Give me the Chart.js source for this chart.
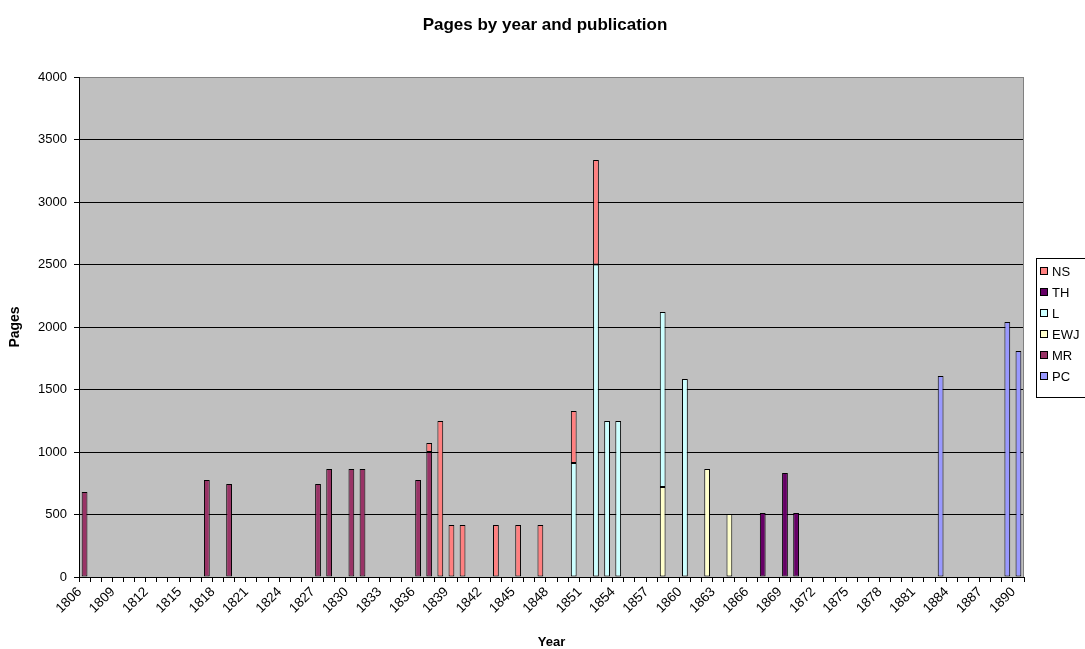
<!DOCTYPE html>
<html>
<head>
<meta charset="utf-8">
<script src="https://cdn.jsdelivr.net/npm/chart.js@4"></script>
<style>
  html, body { margin: 0; padding: 0; background: #fff; }
  #wrap { width: 1085px; height: 649px; position: relative; }
</style>
</head>
<body>
<div id="wrap"><canvas id="pagesChart"></canvas></div>
<script>
// Categories: one per year
const years = [
  1806, 1807, 1808, 1809, 1810, 1811, 1812, 1813, 1814, 1815,
  1816, 1817, 1818, 1819, 1820, 1821, 1822, 1823, 1824, 1825,
  1826, 1827, 1828, 1829, 1830, 1831, 1832, 1833, 1834, 1835,
  1836, 1837, 1838, 1839, 1840, 1841, 1842, 1843, 1844, 1845,
  1846, 1847, 1848, 1849, 1850, 1851, 1852, 1853, 1854, 1855,
  1856, 1857, 1858, 1859, 1860, 1861, 1862, 1863, 1864, 1865,
  1866, 1867, 1868, 1869, 1870, 1871, 1872, 1873, 1874, 1875,
  1876, 1877, 1878, 1879, 1880, 1881, 1882, 1883, 1884, 1885,
  1886, 1887, 1888, 1889, 1890
];

// Pages per publication (only the years that have a bar)
const pcYears = [1883, 1889, 1890];
const pcPages = [1608, 2040, 1808];

const mrYears = [1806, 1817, 1819, 1827, 1828, 1830, 1831, 1836, 1837];
const mrPages = [680, 776, 744, 744, 864, 864, 864, 776, 1000];

const ewjYears = [1858, 1862, 1864];
const ewjPages = [720, 864, 504];

const lYears = [1850, 1852, 1853, 1854, 1858, 1860];
const lPages = [912, 2500, 1248, 1248, 1400, 1584];

const thYears = [1867, 1869, 1870];
const thPages = [512, 832, 512];

const nsYears = [1837, 1838, 1839, 1840, 1843, 1845, 1847, 1850, 1852];
const nsPages = [72, 1248, 416, 416, 416, 416, 416, 416, 836];

// Y axis ticks
const yTicks = [0, 500, 1000, 1500, 2000, 2500, 3000, 3500, 4000];

const FONT = "'Liberation Sans', Arial, sans-serif";
Chart.defaults.font.family = FONT;
Chart.defaults.color = "#000";

// spread a sparse year/value list over all categories
function byYear(ys, vals) {
  return years.map((y) => {
    const k = ys.indexOf(y);
    return k === -1 ? null : vals[k];
  });
}

function series(label, ys, vals, color) {
  return {
    label: label,
    data: byYear(ys, vals),
    backgroundColor: color,
    borderColor: "#000",
    borderWidth: 1,
    borderSkipped: false,
    barPercentage: 0.52,
    categoryPercentage: 1.0,
  };
}

// Grey plot area, title and right border
const plotBackground = {
  id: "plotBackground",
  beforeDraw(chart) {
    const { ctx, chartArea } = chart;
    ctx.save();
    ctx.fillStyle = "#fff";
    ctx.fillRect(0, 0, chart.width, chart.height);
    ctx.fillStyle = "#c0c0c0";
    ctx.fillRect(chartArea.left, chartArea.top, chartArea.right - chartArea.left, chartArea.bottom - chartArea.top);
    ctx.restore();
  },
  afterDraw(chart) {
    const { ctx, chartArea } = chart;
    ctx.save();
    ctx.strokeStyle = "#808080";
    ctx.lineWidth = 1;
    ctx.beginPath();
    ctx.moveTo(Math.round(chartArea.right) - 0.5, chartArea.top);
    ctx.lineTo(Math.round(chartArea.right) - 0.5, chartArea.bottom);
    ctx.stroke();
    ctx.fillStyle = "#000";
    ctx.font = "bold 17px " + FONT;
    ctx.textAlign = "center";
    ctx.textBaseline = "middle";
    ctx.fillText("Pages by year and publication", 545, 25);
    ctx.restore();
  },
};

// Excel-like legend box on the right, partly cut off by the edge
const sideLegend = {
  id: "sideLegend",
  afterDraw(chart) {
    const ctx = chart.ctx;
    const items = chart.data.datasets.slice().reverse();
    ctx.save();
    ctx.fillStyle = "#fff";
    ctx.fillRect(1036.5, 258.5, 60, 139);
    ctx.strokeStyle = "#000";
    ctx.lineWidth = 1;
    ctx.strokeRect(1036.5, 258.5, 60, 139);
    ctx.font = "13px " + FONT;
    ctx.textBaseline = "middle";
    items.forEach((ds, i) => {
      const cy = Math.round(271 + i * 21);
      ctx.fillStyle = ds.backgroundColor;
      ctx.fillRect(1040.5, cy - 3.5, 7, 7);
      ctx.strokeRect(1040.5, cy - 3.5, 7, 7);
      ctx.fillStyle = "#000";
      ctx.fillText(ds.label, 1052, cy + 1);
    });
    ctx.restore();
  },
};

const ctx = document.getElementById("pagesChart").getContext("2d");
const pagesChart = new Chart(ctx, {
  type: "bar",
  data: {
    labels: years,
    datasets: [
      series("PC", pcYears, pcPages, "#9999ff"),
      series("MR", mrYears, mrPages, "#993366"),
      series("EWJ", ewjYears, ewjPages, "#ffffcc"),
      series("L", lYears, lPages, "#ccffff"),
      series("TH", thYears, thPages, "#660066"),
      series("NS", nsYears, nsPages, "#ff8080"),
    ],
  },
  options: {
    responsive: true,
    maintainAspectRatio: false,
    animation: false,
    layout: {
      padding: { top: 77, right: 61, bottom: 0, left: 0 },
    },
    scales: {
      x: {
        stacked: true,
        offset: true,
        afterFit: (scale) => {
          scale.height = 72;
        },
        grid: {
          offset: true,
          drawOnChartArea: false,
          drawTicks: true,
          tickLength: 5,
          color: "#000",
        },
        border: { display: true, color: "#000", width: 1 },
        ticks: {
          autoSkip: false,
          minRotation: 45,
          maxRotation: 45,
          padding: 2,
          labelOffset: -5,
          font: { size: 13.5 },
          callback: (val, i) => (i % 3 === 0 ? String(years[i]) : ""),
        },
        title: {
          display: true,
          text: "Year",
          font: { size: 13, weight: "bold", lineHeight: 1 },
          padding: { top: 0, bottom: 0 },
        },
      },
      y: {
        stacked: true,
        min: yTicks[0],
        max: yTicks[yTicks.length - 1],
        afterFit: (scale) => {
          scale.width = 79;
        },
        afterBuildTicks: (scale) => {
          scale.ticks = yTicks.map((v) => ({ value: v }));
        },
        grid: {
          color: (c) => (c.tick && c.tick.value === 4000 ? "#808080" : "#000"),
          tickColor: "#000",
          tickLength: 5,
          drawTicks: true,
        },
        border: { display: true, color: "#000", width: 1 },
        ticks: {
          padding: 7,
          font: { size: 13 },
          callback: (v) => String(v),
        },
        title: {
          display: true,
          text: "Pages",
          font: { size: 14, weight: "bold", lineHeight: 1 },
          padding: { top: 8, bottom: 0 },
        },
      },
    },
    plugins: {
      legend: { display: false },
      tooltip: { enabled: false },
      title: { display: false },
    },
  },
  plugins: [plotBackground, sideLegend],
});
</script>
</body>
</html>
